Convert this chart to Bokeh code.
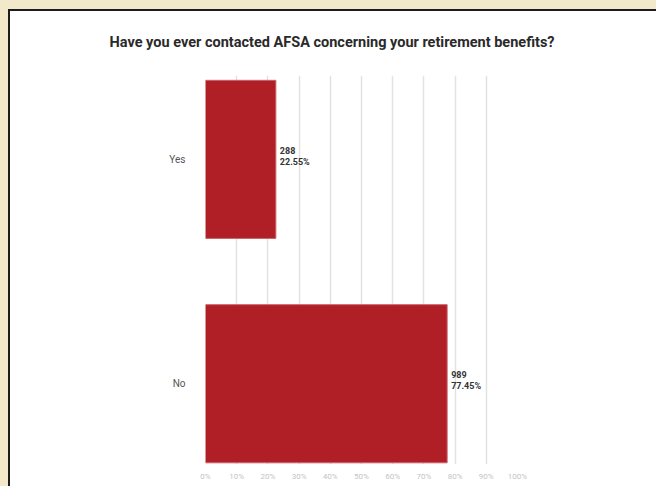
from bokeh.plotting import figure
from bokeh.models import Range1d, FixedTicker, PrintfTickFormatter, ColumnDataSource, Title
from bokeh.core.properties import value
from bokeh.embed import file_html
from bokeh.resources import INLINE

# ---- data ----
categories = ["Yes", "No"]
cat_pos = [1, 0]
counts = [288, 989]
percents = [22.55, 77.45]
x_ticks = [0, 10, 20, 30, 40, 50, 60, 70, 80, 90, 100]
title_text = "Have you ever contacted AFSA concerning your retirement benefits?"

FONT = "Roboto"
BEIGE = "#f2e8ca"
RULE = "#1c1c1c"

labels = [f"{c}\n{p:.2f}%" for c, p in zip(counts, percents)]
src = ColumnDataSource(dict(y=cat_pos, right=percents, lab=labels))

p = figure(width=656, height=486, output_backend="svg", toolbar_location=None,
           x_range=Range1d(0, 100), y_range=Range1d(-0.36, 1.374),
           min_border_left=205, min_border_right=139, min_border_top=75, min_border_bottom=22)
# transparent canvas border so the element's CSS background (panel + beige edge) shows
p.border_fill_alpha = 0
p.background_fill_color = "white"
p.outline_line_color = None
p.styles = {"background-color": "#ffffff",
            "box-shadow": f"inset 8px 9px 0 0 {BEIGE}, inset 10px 11px 0 0 {RULE}"}

p.title = Title(text=title_text, align="left", offset=-96, standoff=50,
                text_font=FONT, text_font_size="14.5px", text_font_style="bold",
                text_color="#2a2a2a")

p.hbar(y="y", left=0, right="right", height=0.705, source=src,
       fill_color="#b01f25", line_color="#c9646a", line_width=1)

p.text(x="right", y="y", text="lab", source=src, x_offset=4, y_offset=-3,
       text_font=value(FONT), text_font_size="9px", text_font_style="bold",
       text_color="#333333", text_baseline="middle", text_align="left",
       text_line_height=1.1)

# axes
p.xaxis.ticker = FixedTicker(ticks=x_ticks)
p.xaxis.formatter = PrintfTickFormatter(format="%d%%")
p.xaxis.axis_line_color = None
p.xaxis.major_tick_line_color = None
p.xaxis.minor_tick_line_color = None
p.xaxis.major_label_text_font = FONT
p.xaxis.major_label_text_font_size = "8px"
p.xaxis.major_label_text_color = "#c4c4c4"
p.xaxis.major_label_standoff = 1

p.yaxis.ticker = FixedTicker(ticks=cat_pos)
p.yaxis.major_label_overrides = {pos: c for pos, c in zip(cat_pos, categories)}
p.yaxis.axis_line_color = None
p.yaxis.major_tick_line_color = None
p.yaxis.minor_tick_line_color = None
p.yaxis.major_label_text_font = FONT
p.yaxis.major_label_text_font_size = "10px"
p.yaxis.major_label_text_color = "#555555"
p.yaxis.major_label_standoff = 14

p.xgrid.ticker = FixedTicker(ticks=x_ticks)
p.xgrid.grid_line_color = "#e2e2e2"
p.xgrid.grid_line_width = 1.5
p.ygrid.grid_line_color = None

html = file_html(p, INLINE)
html = html.replace("<body>", f'<body style="background-color:{BEIGE};">', 1)
open("out.html", "w").write(html)
